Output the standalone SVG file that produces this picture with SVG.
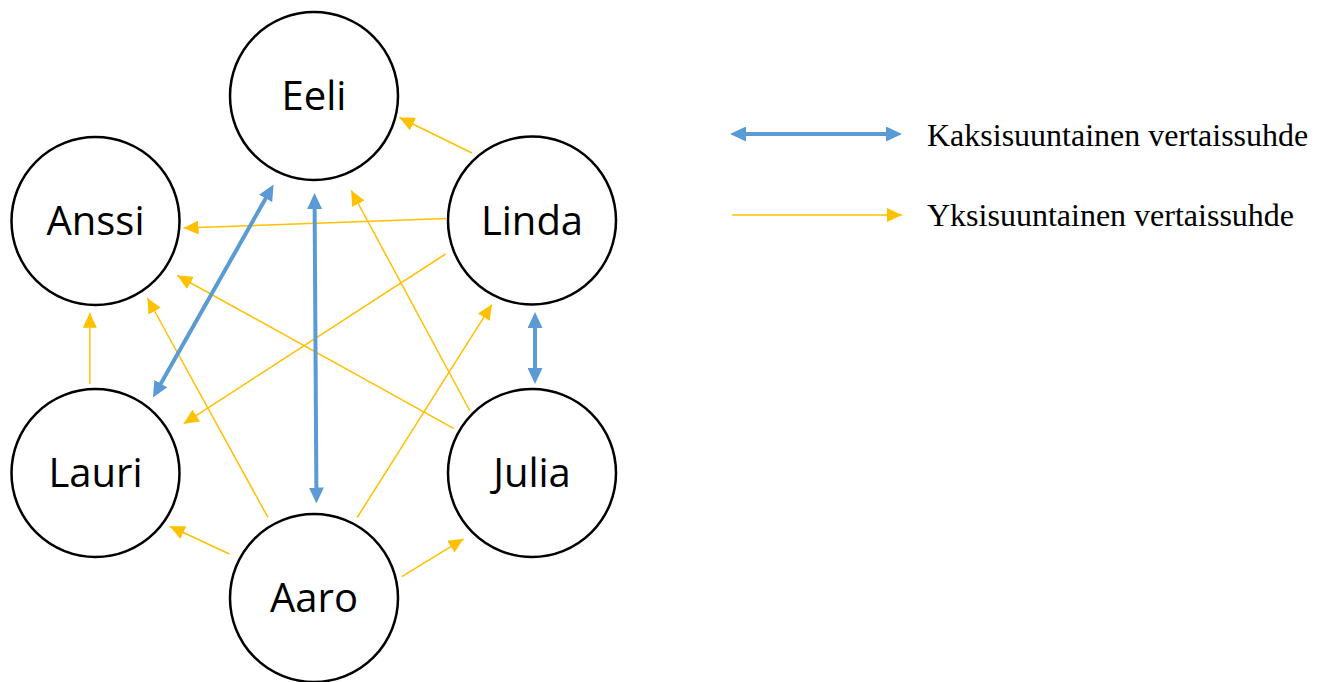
<svg xmlns="http://www.w3.org/2000/svg" width="1325" height="682" viewBox="0 0 1325 682">
  <style>
    .node circle { fill: #FFFFFF; stroke: #000000; stroke-width: 2.5; }
    .node text { font-family: "Open Sans", "Liberation Sans", sans-serif; font-size: 40px; fill: #000000; text-anchor: middle; }
    .one { stroke: #FFC000; stroke-width: 1.5; fill: none; marker-end: url(#ya); }
    .two { stroke: #5B9BD5; stroke-width: 4; fill: none; marker-start: url(#ba); marker-end: url(#ba); }
    .legend { font-family: "Liberation Serif", "Times New Roman", serif; font-size: 32px; fill: #000000; }
  </style>
  <defs>
    <marker id="ya" markerUnits="userSpaceOnUse" markerWidth="15" markerHeight="14" refX="15" refY="7" orient="auto" viewBox="0 0 15 14">
      <path d="M0,0 L15,7 L0,14 z" fill="#FFC000"/>
    </marker>
    <marker id="ba" markerUnits="userSpaceOnUse" markerWidth="16" markerHeight="15" refX="6" refY="7.5" orient="auto-start-reverse" viewBox="0 0 16 15">
      <path d="M0,0 L16,7.5 L0,15 z" fill="#5B9BD5"/>
    </marker>
  </defs>
  <rect x="0" y="0" width="1325" height="682" fill="#FFFFFF"/>

  <g id="connectors">
    <line class="one" x1="472" y1="153" x2="399.5" y2="117.5"/>
    <line class="one" x1="446" y1="218.5" x2="183.5" y2="228"/>
    <line class="one" x1="445.5" y1="254" x2="183.7" y2="423.7"/>
    <line class="one" x1="454" y1="428.7" x2="177.3" y2="275.5"/>
    <line class="one" x1="469.7" y1="410.5" x2="351.2" y2="190.5"/>
    <line class="one" x1="268" y1="517.5" x2="147.4" y2="298"/>
    <line class="one" x1="357.2" y1="517.5" x2="491.8" y2="304.6"/>
    <line class="one" x1="229.4" y1="554" x2="169.8" y2="526.2"/>
    <line class="one" x1="401.8" y1="576.7" x2="463.6" y2="538.8"/>
    <line class="one" x1="89.8" y1="384" x2="89.8" y2="312.8"/>
    <line class="two" x1="157.9" y1="388.8" x2="268.6" y2="193.2"/>
    <line class="two" x1="314.6" y1="203" x2="316.4" y2="493.5"/>
    <line class="two" x1="535" y1="322" x2="535" y2="374"/>
  </g>

  <g id="node-eeli" class="node">
    <circle cx="314" cy="96" r="84"/>
    <text x="314" y="110">Eeli</text>
  </g>
  <g id="node-anssi" class="node">
    <circle cx="95.5" cy="221" r="84"/>
    <text x="95.5" y="235">Anssi</text>
  </g>
  <g id="node-linda" class="node">
    <circle cx="532" cy="220.5" r="84"/>
    <text x="532" y="235">Linda</text>
  </g>
  <g id="node-lauri" class="node">
    <circle cx="95.5" cy="473" r="84"/>
    <text x="95.5" y="487">Lauri</text>
  </g>
  <g id="node-julia" class="node">
    <circle cx="532" cy="473" r="84"/>
    <text x="532" y="487">Julia</text>
  </g>
  <g id="node-aaro" class="node">
    <circle cx="314" cy="598" r="84"/>
    <text x="314" y="612">Aaro</text>
  </g>

  <g id="legend">
    <line class="two" x1="740" y1="134" x2="892" y2="134"/>
    <text class="legend" x="927" y="146">Kaksisuuntainen vertaissuhde</text>
    <line class="one" x1="732" y1="215" x2="902" y2="215"/>
    <text class="legend" x="927" y="226">Yksisuuntainen vertaissuhde</text>
  </g>
</svg>
